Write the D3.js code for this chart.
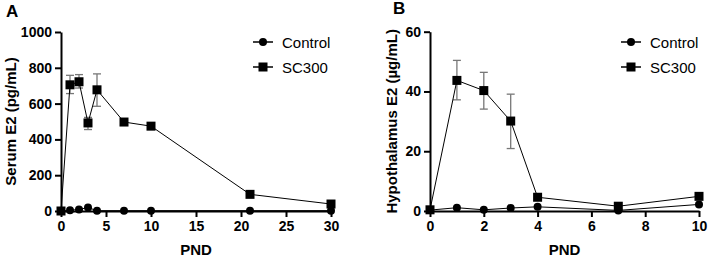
<!DOCTYPE html>
<html><head><meta charset="utf-8">
<script src="https://cdn.jsdelivr.net/npm/d3@7"></script>
<style>body{margin:0;background:#fff}svg{display:block}text{font-family:"Liberation Sans",Arial,sans-serif}</style>
</head><body><svg id="c" width="708" height="257"></svg>
<script>
// Panel A: Serum E2 (pg/mL)
const aDays = [0, 1, 2, 3, 4, 7, 10, 21, 30];
const aControl = [0, 4, 9, 19, 2, 2, 2, 2, 2];
const aSC300 = [0, 705, 722, 492, 677, 497, 474, 93, 39];
const aSC300Lo = [0, 656, 687, 455, 585, 497, 474, 93, 39];
const aSC300Hi = [0, 758, 762, 523, 766, 497, 474, 93, 39];
const aXTicks = [0, 5, 10, 15, 20, 25, 30];
const aYTicks = [0, 200, 400, 600, 800, 1000];
// Panel B: Hypothalamus E2 (µg/mL)
const bDays = [0, 1, 2, 3, 4, 7, 10];
const bControl = [0.3, 1.1, 0.4, 1.0, 1.4, 0.2, 2.2];
const bSC300 = [0.4, 43.7, 40.3, 30.1, 4.6, 1.6, 4.9];
const bSC300Lo = [0.4, 37.2, 34.1, 20.9, 4.6, 1.6, 4.9];
const bSC300Hi = [0.4, 50.4, 46.4, 39.1, 4.6, 1.6, 4.9];
const bXTicks = [0, 2, 4, 6, 8, 10];
const bYTicks = [0, 20, 40, 60];

const svg = d3.select("#c");

function panel(o) {
  const g = svg.append("g");
  const x = d3.scaleLinear().domain(o.xDom).range(o.xRange);
  const y = d3.scaleLinear().domain(o.yDom).range(o.yRange);
  const fmt = d3.format("d");
  const xa = g.append("g").attr("transform", `translate(0,${o.yRange[0]})`)
    .call(d3.axisBottom(x).tickValues(o.xTicks).tickFormat(fmt).tickSize(6).tickSizeOuter(0).tickPadding(4));
  const ya = g.append("g").attr("transform", `translate(${o.xRange[0]},0)`)
    .call(d3.axisLeft(y).tickValues(o.yTicks).tickFormat(fmt).tickSize(6).tickSizeOuter(0).tickPadding(3));
  [xa, ya].forEach(a => {
    a.select(".domain").attr("stroke", "#000").attr("stroke-width", 2);
    a.selectAll(".tick line").attr("stroke", "#000").attr("stroke-width", 2);
    a.selectAll(".tick text").attr("font-size", 14).attr("font-weight", "bold").attr("fill", "#000")
      .style("font-family", '"Liberation Sans",Arial,sans-serif');
  });
  // error bars
  const eb = g.append("g").attr("stroke", "#777").attr("stroke-width", 1.3);
  o.days.forEach((d, i) => {
    if (o.hi[i] - o.lo[i] <= 0) return;
    const cx = x(d);
    eb.append("line").attr("x1", cx).attr("x2", cx).attr("y1", y(o.lo[i])).attr("y2", y(o.hi[i]));
    eb.append("line").attr("x1", cx - 4).attr("x2", cx + 4).attr("y1", y(o.lo[i])).attr("y2", y(o.lo[i]));
    eb.append("line").attr("x1", cx - 4).attr("x2", cx + 4).attr("y1", y(o.hi[i])).attr("y2", y(o.hi[i]));
  });
  const line = d3.line().x(d => x(d[0])).y(d => y(d[1]));
  [o.ctrl, o.sc].forEach(v => {
    g.append("path").datum(o.days.map((d, i) => [d, v[i]]))
      .attr("d", line).attr("fill", "none").attr("stroke", "#000").attr("stroke-width", 1);
  });
  g.selectAll(".sq").data(o.days.map((d, i) => [d, o.sc[i]])).enter().append("rect")
    .attr("x", d => x(d[0]) - 4.5).attr("y", d => y(d[1]) - 4.5).attr("width", 9).attr("height", 9).attr("fill", "#000");
  g.selectAll(".ci").data(o.days.map((d, i) => [d, o.ctrl[i]])).enter().append("circle")
    .attr("cx", d => x(d[0])).attr("cy", d => y(d[1])).attr("r", 4).attr("fill", "#000");
  // axis titles
  g.append("text").attr("x", (o.xRange[0] + o.xRange[1]) / 2).attr("y", 255).attr("text-anchor", "middle")
    .attr("font-size", 15).attr("font-weight", "bold").text("PND");
  g.append("text").attr("transform", `translate(${o.yLabX},${(o.yRange[0] + o.yRange[1]) / 2}) rotate(-90)`)
    .attr("text-anchor", "middle").attr("font-size", 15).attr("font-weight", "bold").text(o.yLabel);
  g.append("text").attr("x", o.letterX).attr("y", o.letterY).attr("font-size", 17).attr("font-weight", "bold").text(o.letter);
  // legend
  const L = g.append("g");
  [["Control", "c"], ["SC300", "s"]].forEach((e, i) => {
    const ly = o.legY + i * 25;
    L.append("line").attr("x1", o.legX).attr("x2", o.legX + 20).attr("y1", ly).attr("y2", ly).attr("stroke", "#000").attr("stroke-width", 1.5);
    if (e[1] === "c") L.append("circle").attr("cx", o.legX + 10).attr("cy", ly).attr("r", 4).attr("fill", "#000");
    else L.append("rect").attr("x", o.legX + 5.5).attr("y", ly - 4.5).attr("width", 9).attr("height", 9).attr("fill", "#000");
    L.append("text").attr("x", o.legX + 29).attr("y", ly + 5.5).attr("font-size", 15).text(e[0]);
  });
}

panel({xDom: [0, 30], xRange: [61, 331], yDom: [0, 1000], yRange: [211, 32],
  xTicks: aXTicks, yTicks: aYTicks, days: aDays, ctrl: aControl, sc: aSC300, lo: aSC300Lo, hi: aSC300Hi,
  yLabel: "Serum E2 (pg/mL)", yLabX: 16, letter: "A", letterX: 6, letterY: 17, legX: 253, legY: 42});
panel({xDom: [0, 10], xRange: [430, 699], yDom: [0, 60], yRange: [211, 31.7],
  xTicks: bXTicks, yTicks: bYTicks, days: bDays, ctrl: bControl, sc: bSC300, lo: bSC300Lo, hi: bSC300Hi,
  yLabel: "Hypothalamus E2 (µg/mL)", yLabX: 397, letter: "B", letterX: 393, letterY: 14, legX: 621, legY: 42});
</script></body></html>
